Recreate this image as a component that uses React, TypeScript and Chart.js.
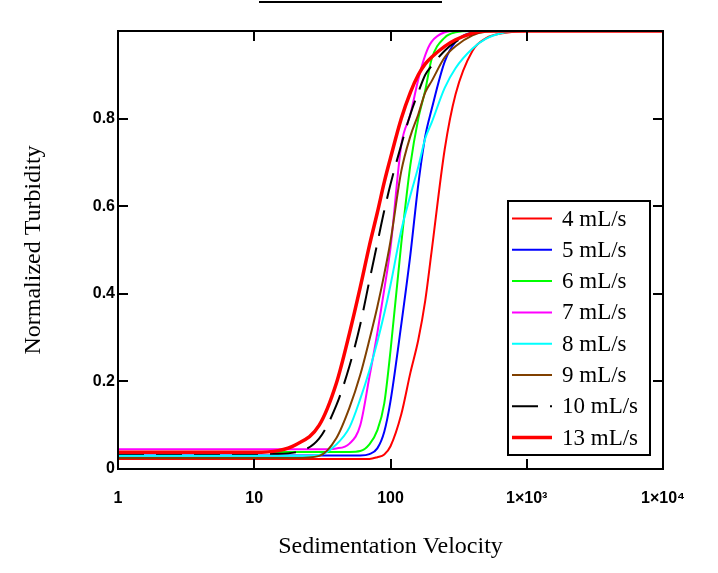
import { useEffect, useRef } from "react";
import { Chart, registerables, type ChartConfiguration, type Plugin } from "chart.js";

Chart.register(...registerables);

// sedimentation velocity grid shared by every trace
const velocity = [1, 10, 15, 20, 30, 40, 50, 60, 70, 80, 90, 100, 120, 140, 160, 180, 200, 250, 300, 400, 500, 700, 1000, 10000];

// normalized turbidity per flow rate
const flow4 = [0.023, 0.023, 0.023, 0.023, 0.023, 0.023, 0.023, 0.023, 0.023, 0.027, 0.033, 0.052, 0.125, 0.22, 0.295, 0.385, 0.495, 0.73, 0.855, 0.955, 0.983, 0.996, 1, 1];
const flow5 = [0.031, 0.031, 0.031, 0.031, 0.031, 0.031, 0.031, 0.031, 0.034, 0.047, 0.085, 0.155, 0.33, 0.49, 0.65, 0.76, 0.82, 0.93, 0.975, 0.997, 1, 1, 1, 1];
const flow6 = [0.039, 0.039, 0.039, 0.039, 0.039, 0.039, 0.039, 0.041, 0.056, 0.088, 0.15, 0.27, 0.515, 0.695, 0.8, 0.865, 0.935, 0.985, 0.997, 1, 1, 1, 1, 1];
const flow7 = [0.045, 0.045, 0.045, 0.045, 0.045, 0.047, 0.058, 0.1, 0.21, 0.31, 0.41, 0.505, 0.74, 0.81, 0.89, 0.945, 0.975, 0.997, 1, 1, 1, 1, 1, 1];
const flow8 = [0.03, 0.03, 0.03, 0.03, 0.032, 0.056, 0.095, 0.16, 0.225, 0.29, 0.355, 0.42, 0.545, 0.625, 0.69, 0.755, 0.79, 0.87, 0.915, 0.96, 0.982, 0.997, 1, 1];
const flow9 = [0.025, 0.025, 0.025, 0.025, 0.03, 0.07, 0.14, 0.215, 0.295, 0.37, 0.445, 0.52, 0.68, 0.76, 0.81, 0.86, 0.885, 0.94, 0.965, 0.99, 0.998, 1, 1, 1];
const flow10 = [0.035, 0.035, 0.035, 0.038, 0.07, 0.145, 0.235, 0.33, 0.43, 0.515, 0.59, 0.65, 0.74, 0.81, 0.86, 0.9, 0.92, 0.955, 0.975, 0.993, 1, 1, 1, 1];
const flow13 = [0.038, 0.038, 0.042, 0.055, 0.1, 0.195, 0.31, 0.415, 0.51, 0.585, 0.655, 0.71, 0.8, 0.86, 0.9, 0.925, 0.94, 0.965, 0.98, 0.995, 1, 1, 1, 1];

const seriesLabels = ["4 mL/s", "5 mL/s", "6 mL/s", "7 mL/s", "8 mL/s", "9 mL/s", "10 mL/s", "13 mL/s"];
const seriesValues = [flow4, flow5, flow6, flow7, flow8, flow9, flow10, flow13];

const xTickValues = [1, 10, 100, 1000, 10000];
const xTickLabels = ["1", "10", "100", "1×10³", "1×10⁴"];
const yTickValues = [0, 0.2, 0.4, 0.6, 0.8];
const yTickLabels = ["0", "0.2", "0.4", "0.6", "0.8"];

const COLORS = ["#FF0000", "#0000FF", "#00FF00", "#FF00FF", "#00FFFF", "#804000", "#000000", "#FF0000"];
const WIDTHS = [2, 2, 2, 2, 2, 2, 2, 3.5];
const DASHES: number[][] = [[], [], [], [], [], [], [26, 12], []];

const TICK_FONT = { family: "'Liberation Sans', Arial, sans-serif", size: 16, weight: "bold" as const };
const SERIF = "'Liberation Serif', 'Times New Roman', serif";

// box frame, inward ticks, legend box and the short rule above the plot
const framePlugin: Plugin = {
  id: "frame",
  afterDatasetsDraw(chart) {
    const { ctx, chartArea: a, scales } = chart;
    ctx.save();
    ctx.strokeStyle = "#000";
    ctx.lineWidth = 2;
    ctx.strokeRect(a.left, a.top, a.right - a.left, a.bottom - a.top);

    ctx.beginPath();
    for (const v of xTickValues.slice(1, -1)) {
      const px = Math.round(scales.x.getPixelForValue(v));
      ctx.moveTo(px, a.bottom);
      ctx.lineTo(px, a.bottom - 10);
      ctx.moveTo(px, a.top);
      ctx.lineTo(px, a.top + 10);
    }
    for (const v of yTickValues.slice(1)) {
      const py = Math.round(scales.y.getPixelForValue(v));
      ctx.moveTo(a.left, py);
      ctx.lineTo(a.left + 10, py);
      ctx.moveTo(a.right, py);
      ctx.lineTo(a.right - 10, py);
    }
    ctx.stroke();

    ctx.fillStyle = "#000";
    ctx.fillRect(259, 1, 183, 2);

    // legend
    const box = { x: 508, y: 201, w: 142, h: 254 };
    ctx.fillStyle = "#fff";
    ctx.fillRect(box.x, box.y, box.w, box.h);
    ctx.strokeRect(box.x, box.y, box.w, box.h);
    ctx.font = `23px ${SERIF}`;
    ctx.textBaseline = "middle";
    chart.data.datasets.forEach((ds, i) => {
      const y = 218.5 + i * 31.3;
      ctx.beginPath();
      ctx.strokeStyle = ds.borderColor as string;
      ctx.lineWidth = WIDTHS[i];
      ctx.setLineDash(DASHES[i]);
      ctx.moveTo(512, y);
      ctx.lineTo(552, y);
      ctx.stroke();
      ctx.setLineDash([]);
      ctx.fillStyle = "#000";
      ctx.fillText(ds.label ?? "", 562, y + 1);
    });
    ctx.restore();
  },
};

export default function App() {
  const canvasRef = useRef<HTMLCanvasElement>(null);

  useEffect(() => {
    document.body.style.margin = "0";
    const canvas = canvasRef.current;
    if (!canvas) return;

    const config: ChartConfiguration<"line"> = {
      type: "line",
      data: {
        datasets: seriesValues.map((vals, i) => ({
          label: seriesLabels[i],
          data: velocity.map((v, j) => ({ x: v, y: vals[j] })),
          borderColor: COLORS[i],
          borderWidth: WIDTHS[i],
          borderDash: DASHES[i],
          pointRadius: 0,
          fill: false,
          cubicInterpolationMode: "monotone" as const,
          order: seriesValues.length - i,
        })),
      },
      options: {
        responsive: false,
        animation: false,
        layout: { padding: { left: 0, top: 31, right: 55, bottom: 0 } },
        plugins: {
          legend: { display: false },
          tooltip: { enabled: false },
        },
        scales: {
          x: {
            type: "logarithmic",
            min: 1,
            max: 10000,
            afterBuildTicks: (s) => {
              s.ticks = xTickValues.map((value) => ({ value }));
            },
            afterFit: (s) => {
              s.height = 104;
            },
            grid: { display: false, drawTicks: false },
            border: { display: false },
            ticks: {
              autoSkip: false,
              maxRotation: 0,
              padding: 20,
              color: "#000",
              font: TICK_FONT,
              callback: (_v, i) => xTickLabels[i],
            },
            title: {
              display: true,
              text: "Sedimentation Velocity",
              color: "#000",
              font: { family: SERIF, size: 24 },
              padding: { top: 0, bottom: 12 },
            },
          },
          y: {
            type: "linear",
            min: 0,
            max: 1,
            afterBuildTicks: (s) => {
              s.ticks = yTickValues.map((value) => ({ value }));
            },
            afterFit: (s) => {
              s.width = 118;
            },
            grid: { display: false, drawTicks: false },
            border: { display: false },
            ticks: {
              padding: 3,
              color: "#000",
              font: TICK_FONT,
              callback: (_v, i) => yTickLabels[i],
            },
            title: {
              display: true,
              text: "Normalized Turbidity",
              color: "#000",
              font: { family: SERIF, size: 24 },
              padding: { top: 19, bottom: 0 },
            },
          },
        },
      },
      plugins: [framePlugin],
    };

    const chart = new Chart(canvas, config);
    return () => chart.destroy();
  }, []);

  return <canvas ref={canvasRef} width={718} height={573} style={{ display: "block" }} />;
}
